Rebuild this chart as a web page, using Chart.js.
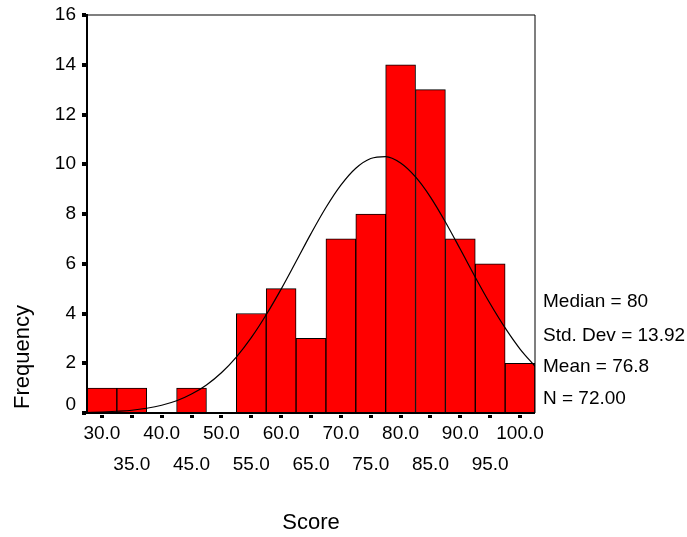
<!DOCTYPE html>
<html>
<head>
<meta charset="utf-8">
<script src="https://cdn.jsdelivr.net/npm/chart.js@4"></script>
<style>
  html, body { margin: 0; padding: 0; background: #fff; }
  #c { display: block; }
</style>
</head>
<body>
<canvas id="c" width="687" height="537"></canvas>
<script>
// ---- data ----
const CATEGORIES = [30, 35, 40, 45, 50, 55, 60, 65, 70, 75, 80, 85, 90, 95, 100];
const FREQUENCIES = [1, 1, 0, 1, 0, 4, 5, 3, 7, 8, 14, 13, 7, 6, 2];
const CURVE_X = [27.5, 30, 32.5, 35, 37.5, 40, 42.5, 45, 47.5, 50, 52.5, 55, 57.5, 60, 62.5, 65, 67.5, 70, 72.5, 75, 77.5, 80, 82.5, 85, 87.5, 90, 92.5, 95, 97.5, 100, 102.5];
const CURVE_Y = [0.02, 0.04, 0.07, 0.11, 0.19, 0.31, 0.49, 0.76, 1.13, 1.62, 2.25, 3.03, 3.95, 4.98, 6.09, 7.21, 8.26, 9.16, 9.84, 10.23, 10.31, 10.05, 9.49, 8.68, 7.68, 6.58, 5.46, 4.39, 3.42, 2.57, 1.88];
const X_TICKS = [30, 35, 40, 45, 50, 55, 60, 65, 70, 75, 80, 85, 90, 95, 100];
const Y_TICKS = [0, 2, 4, 6, 8, 10, 12, 14, 16];
const STATS = ['Median = 80', 'Std. Dev = 13.92', 'Mean = 76.8', 'N = 72.00'];
const X_TITLE = 'Score';
const Y_TITLE = 'Frequency';

const FONT = '"Liberation Sans", Arial, sans-serif';

const decor = {
  id: 'decor',
  afterDatasetsDraw(chart) {
    const ctx = chart.ctx;
    const a = chart.chartArea;
    const xs = chart.scales.x, ys = chart.scales.y;
    ctx.save();
    ctx.fillStyle = '#000';
    // frame: top & right thin, left & bottom thicker
    ctx.fillRect(a.left, a.top - 0.5, a.right - a.left, 1);
    ctx.fillRect(a.right - 0.5, a.top, 1, a.bottom - a.top);
    ctx.fillRect(a.left - 1, a.top - 1, 2, a.bottom - a.top + 2);
    ctx.fillRect(a.left - 1, a.bottom - 1, a.right - a.left + 1, 2);
    // y tick marks (left of axis)
    Y_TICKS.forEach(v => {
      const py = ys.getPixelForValue(v);
      ctx.fillRect(a.left - 5, Math.round(py) - 2, 4, 4);
    });
    // x tick marks (below axis with a small gap)
    X_TICKS.forEach(v => {
      const px = xs.getPixelForValue(v);
      ctx.fillRect(Math.round(px) - 2, a.bottom + 2, 4, 3);
    });
    // stats text
    ctx.font = '19px ' + FONT;
    ctx.textAlign = 'left';
    ctx.textBaseline = 'middle';
    const sy = [302, 336, 367, 399];
    STATS.forEach((t, i) => ctx.fillText(t, a.right + 8, sy[i]));
    // axis titles
    ctx.font = '22px ' + FONT;
    ctx.textAlign = 'center';
    ctx.fillText(X_TITLE, (a.left + a.right) / 2, 523);
    ctx.translate(23, 357);
    ctx.rotate(-Math.PI / 2);
    ctx.fillText(Y_TITLE, 0, 0);
    ctx.restore();
  }
};

new Chart(document.getElementById('c'), {
  type: 'bar',
  data: {
    datasets: [
      {
        type: 'bar',
        data: CATEGORIES.map((c, i) => ({ x: c, y: FREQUENCIES[i] })),
        backgroundColor: '#FF0000',
        borderColor: '#000000',
        borderWidth: 1,
        barPercentage: 1,
        categoryPercentage: 1,
        order: 1
      },
      {
        type: 'line',
        data: CURVE_X.map((x, i) => ({ x: x, y: CURVE_Y[i] })),
        borderColor: '#000000',
        borderWidth: 1.2,
        pointRadius: 0,
        fill: false,
        cubicInterpolationMode: 'monotone',
        order: 0
      }
    ]
  },
  options: {
    responsive: false,
    animation: false,
    devicePixelRatio: 1,
    layout: { padding: { left: 0, right: 152, top: 15, bottom: 0 } },
    plugins: { legend: { display: false }, tooltip: { enabled: false } },
    scales: {
      x: {
        type: 'linear',
        min: 27.5,
        max: 102.5,
        offset: false,
        grid: { display: false, drawTicks: false },
        border: { display: false },
        afterBuildTicks: s => { s.ticks = X_TICKS.map(v => ({ value: v })); },
        afterFit: s => { s.height = 124; s.paddingLeft = 0; s.paddingRight = 0; },
        ticks: {
          autoSkip: false,
          maxRotation: 0,
          minRotation: 0,
          padding: 5,
          color: '#000',
          font: { family: FONT, size: 19, lineHeight: '31px' },
          callback: (v, i) => {
            const t = Number(v).toFixed(1);
            return i % 2 === 0 ? [t] : ['', t];
          }
        }
      },
      y: {
        min: 0,
        max: 16,
        grid: { display: false, drawTicks: false },
        border: { display: false },
        afterBuildTicks: s => { s.ticks = Y_TICKS.map(v => ({ value: v })); },
        afterFit: s => { s.width = 87; s.paddingTop = 0; s.paddingBottom = 0; },
        ticks: {
          padding: 11,
          color: '#000',
          font: { family: FONT, size: 19, lineHeight: '17px' },
          callback: v => (v === 0 ? ['0', ''] : String(v))
        }
      }
    }
  },
  plugins: [decor]
});
</script>
</body>
</html>
